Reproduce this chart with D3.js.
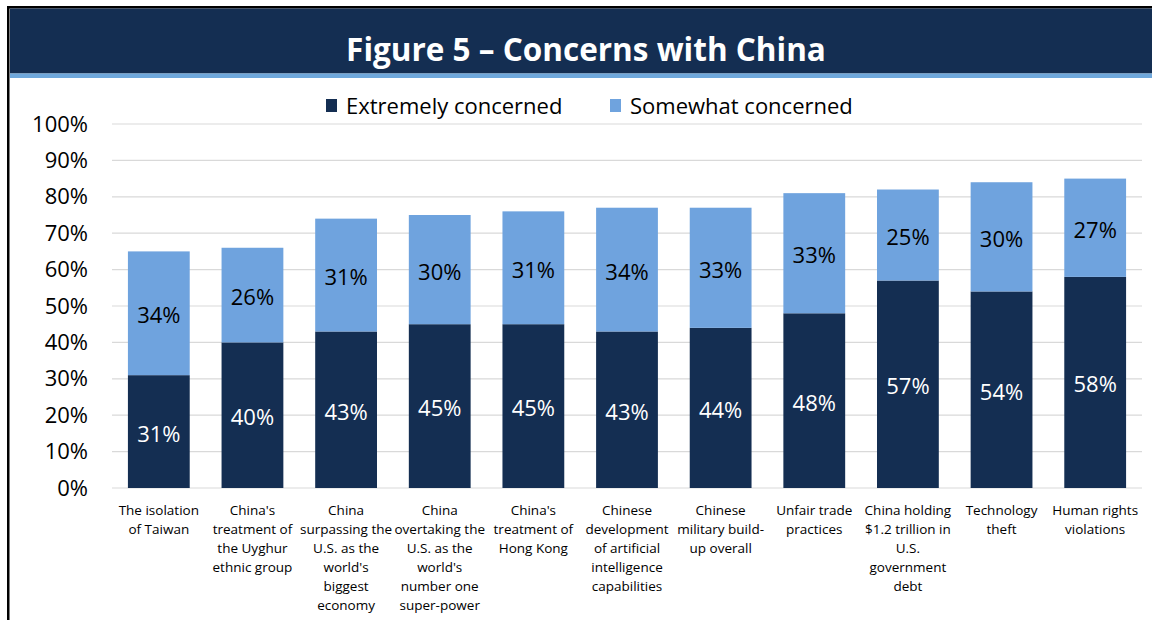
<!DOCTYPE html>
<html>
<head>
<meta charset="utf-8">
<script src="https://cdn.jsdelivr.net/npm/d3@7"></script>
<style>
  body { margin: 0; background: #fff; }
  svg { display: block; font-family: "Open Sans", "Noto Sans", sans-serif; }
</style>
</head>
<body>
<svg id="main"></svg>
<script>
const width = 1152
const height = 620

// data
const categories = [
  "The isolation\nof Taiwan",
  "China's\ntreatment of\nthe Uyghur\nethnic group",
  "China\nsurpassing the\nU.S. as the\nworld's\nbiggest\neconomy",
  "China\novertaking the\nU.S. as the\nworld's\nnumber one\nsuper-power",
  "China's\ntreatment of\nHong Kong",
  "Chinese\ndevelopment\nof artificial\nintelligence\ncapabilities",
  "Chinese\nmilitary build-\nup overall",
  "Unfair trade\npractices",
  "China holding\n$1.2 trillion in\nU.S.\ngovernment\ndebt",
  "Technology\ntheft",
  "Human rights\nviolations"
]
const extremely = [31, 40, 43, 45, 45, 43, 44, 48, 57, 54, 58]
const somewhat = [34, 26, 31, 30, 31, 34, 33, 33, 25, 30, 27]
const seriesNames = ['Extremely concerned', 'Somewhat concerned']
const yTicks = [0, 10, 20, 30, 40, 50, 60, 70, 80, 90, 100]

const colors = ['#142e52', '#6fa3de']

const svg = d3.select('#main').attr('width', width).attr('height', height)

// frame + header band
svg.append('rect').attr('x', 7).attr('y', 6).attr('width', width - 7).attr('height', 2.5).attr('fill', '#000')
svg.append('rect').attr('x', 7).attr('y', 6).attr('width', 2.5).attr('height', height - 6).attr('fill', '#000')
svg.append('rect').attr('x', 10).attr('y', 8.5).attr('width', width - 10).attr('height', 65).attr('fill', '#142e52')
svg.append('rect').attr('x', 10).attr('y', 73.5).attr('width', width - 10).attr('height', 4.5).attr('fill', '#6fa8dc')

svg.append('text')
  .attr('x', 586).attr('y', 61)
  .attr('text-anchor', 'middle')
  .attr('fill', '#fff').attr('font-weight', 700).attr('font-size', 31.5)
  .text('Figure 5 \u2013 Concerns with China')

// legend
const legend = svg.append('g').attr('transform', 'translate(326, 106)')
const legendX = [0, 284]
seriesNames.forEach((name, i) => {
  const g = legend.append('g').attr('transform', `translate(${legendX[i]}, 0)`)
  g.append('rect').attr('x', 0).attr('y', -7).attr('width', 11).attr('height', 13).attr('fill', colors[i])
  g.append('text').attr('x', 20).attr('y', 8).attr('font-size', 22).attr('fill', '#000').text(name)
})

// scales
const x = d3.scaleBand().domain(d3.range(categories.length)).range([112, 1142]).paddingInner(0.34).paddingOuter(0.17)
const y = d3.scaleLinear().domain([0, 100]).range([488, 124])

// gridlines
svg.append('g').selectAll('line').data(yTicks).join('line')
  .attr('x1', 112).attr('x2', 1142)
  .attr('y1', d => y(d)).attr('y2', d => y(d))
  .attr('stroke', '#d9d9d9').attr('stroke-width', 1.2)

// y axis labels
const yAxis = svg.append('g').attr('transform', 'translate(98, 0)')
  .call(d3.axisLeft(y).tickValues(yTicks).tickFormat(d => d + '%').tickSize(0).tickPadding(10))
yAxis.select('.domain').remove()
yAxis.selectAll('text').attr('font-size', 22).attr('fill', '#000').attr('font-family', '"Open Sans", sans-serif')

// stacked bars
const rows = categories.map((c, i) => ({ i, extremely: extremely[i], somewhat: somewhat[i] }))
const stack = d3.stack().keys(['extremely', 'somewhat'])(rows)

stack.forEach((layer, k) => {
  const g = svg.append('g')
  g.selectAll('rect').data(layer).join('rect')
    .attr('x', d => x(d.data.i))
    .attr('width', x.bandwidth())
    .attr('y', d => y(d[1]))
    .attr('height', d => y(d[0]) - y(d[1]))
    .attr('fill', colors[k])
  g.selectAll('text').data(layer).join('text')
    .attr('x', d => x(d.data.i) + x.bandwidth() / 2)
    .attr('y', d => y((d[0] + d[1]) / 2) + 10)
    .attr('text-anchor', 'middle')
    .attr('font-size', 22)
    .attr('fill', k === 0 ? '#fff' : '#000')
    .text(d => (d[1] - d[0]) + '%')
})

// category labels
const catG = svg.append('g')
categories.forEach((c, i) => {
  const t = catG.append('text')
    .attr('text-anchor', 'middle').attr('font-size', 13.5).attr('fill', '#000')
  c.split('\n').forEach((line, j) => {
    t.append('tspan')
      .attr('x', x(i) + x.bandwidth() / 2)
      .attr('y', 515 + j * 19)
      .text(line)
  })
})
</script>
</body>
</html>
